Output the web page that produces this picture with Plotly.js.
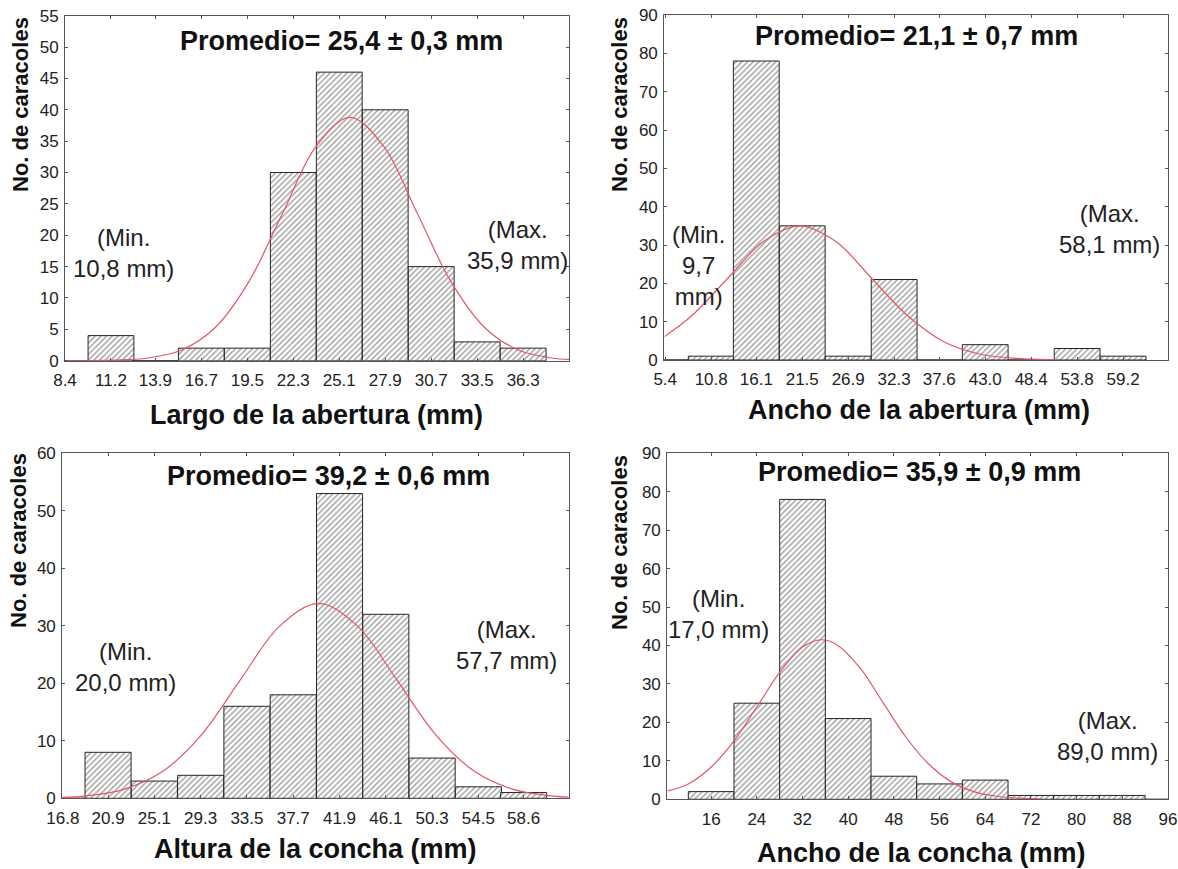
<!DOCTYPE html>
<html>
<head>
<meta charset="utf-8">
<script src="https://cdn.plot.ly/plotly-3.0.1.min.js"></script>
<style>
  html, body { margin: 0; padding: 0; background: #ffffff; overflow: hidden; }
  #chart { width: 1178px; height: 869px; }
</style>
</head>
<body>
<div id="chart"></div>
<script>
// ---------------- DATA ----------------
// Panel 1: Largo de la abertura
const p1Labels = ['8.4','11.2','13.9','16.7','19.5','22.3','25.1','27.9','30.7','33.5','36.3'];
const p1Counts = [0, 4, 0, 2, 2, 30, 46, 40, 15, 3, 2];
const p1BinWidth = 2.79;
const p1CurveX = [8.5, 11.4, 13.45, 15.5, 17.55, 19.6, 21.65, 23.7, 25.75, 27.8, 29.85, 31.9, 33.95, 36.0, 38.05, 39.1];
const p1CurveY = [0.02, 0.09, 0.43, 1.7, 5.3, 12.6, 23.5, 34.2, 38.8, 34.2, 23.5, 12.6, 5.3, 1.7, 0.43, 0.2];
const p1Title = 'Promedio= 25,4 ± 0,3 mm';
const p1XTitle = 'Largo de la abertura (mm)';
const p1Min = '(Min.<br>10,8 mm)';
const p1Max = '(Max.<br>35,9 mm)';

// Panel 2: Ancho de la abertura
const p2Labels = ['5.4','10.8','16.1','21.5','26.9','32.3','37.6','43.0','48.4','53.8','59.2'];
const p2Counts = [0, 1, 78, 35, 1, 21, 0, 4, 0, 3, 1];
const p2BinWidth = 5.38;
const p2CurveX = [5.3, 8.45, 12.7, 16.95, 21.2, 25.45, 29.7, 33.95, 38.2, 42.45, 46.7, 51.8];
const p2CurveY = [6.1, 11.4, 21.2, 30.9, 35.0, 30.9, 21.2, 11.4, 4.7, 1.5, 0.4, 0.05];
const p2Title = 'Promedio= 21,1 ± 0,7 mm';
const p2XTitle = 'Ancho de la abertura (mm)';
const p2Min = '(Min.<br>9,7<br>mm)';
const p2Max = '(Max.<br>58,1 mm)';

// Panel 3: Altura de la concha
const p3Labels = ['16.8','20.9','25.1','29.3','33.5','37.7','41.9','46.1','50.3','54.5','58.6'];
const p3Counts = [0, 8, 3, 4, 16, 18, 53, 32, 7, 2, 1];
const p3BinWidth = 4.18;
const p3CurveX = [16.74, 18.7, 22.25, 25.8, 29.35, 32.9, 36.45, 40.0, 43.55, 47.1, 50.65, 54.2, 57.75, 61.3, 62.7];
const p3CurveY = [0.16, 0.38, 1.5, 4.6, 11.0, 20.6, 29.9, 33.9, 29.9, 20.6, 11.0, 4.6, 1.5, 0.38, 0.2];
const p3Title = 'Promedio= 39,2 ± 0,6 mm';
const p3XTitle = 'Altura de la concha (mm)';
const p3Min = '(Min.<br>20,0 mm)';
const p3Max = '(Max.<br>57,7 mm)';

// Panel 4: Ancho de la concha
const p4Labels = ['16','24','32','40','48','56','64','72','80','88','96'];
const p4Counts = [2, 25, 78, 21, 6, 4, 5, 1, 1, 1, 0];
const p4BinWidth = 8;
const p4CurveX = [8.4, 12, 16, 20, 24, 28, 32, 35.3, 38, 42, 46, 50, 54, 58, 62, 66, 70, 74];
const p4CurveY = [2.2, 4.0, 8.4, 15.2, 24.0, 33.0, 39.6, 41.5, 40.2, 34.3, 25.4, 16.4, 9.3, 4.6, 2.0, 0.8, 0.3, 0.07];
const p4Title = 'Promedio= 35,9 ± 0,9 mm';
const p4XTitle = 'Ancho de la concha (mm)';
const p4Min = '(Min.<br>17,0 mm)';
const p4Max = '(Max.<br>89,0 mm)';

const yTitle = 'No. de caracoles';

// ---------------- LAYOUT / STYLE ----------------
const W = 1178, H = 869;
const FONT = 'Liberation Sans, Arial, Helvetica, sans-serif';
const fx = x => x / W;
const fy = y => 1 - y / H;

const panels = [
  { labels: p1Labels, counts: p1Counts, bw: p1BinWidth, cx: p1CurveX, cy: p1CurveY,
    title: p1Title, xtitle: p1XTitle, min: p1Min, max: p1Max,
    dom: { x0: 65, x1: 569, y0: 15.7, y1: 360.7 }, xr: [8.4, 39.09], yr: [0, 55], dy: 5,
    tpos: [341, 41], xtpos: [316, 415], ytpos: [20, 105], minpos: [123, 253], maxpos: [517, 245] },
  { labels: p2Labels, counts: p2Counts, bw: p2BinWidth, cx: p2CurveX, cy: p2CurveY,
    title: p2Title, xtitle: p2XTitle, min: p2Min, max: p2Max,
    dom: { x0: 664.2, x1: 1168.2, y0: 15, y1: 360 }, xr: [5.28, 64.5], yr: [0, 90], dy: 10,
    tpos: [916, 36], xtpos: [919, 410], ytpos: [619, 105], minpos: [698, 265], maxpos: [1109, 229] },
  { labels: p3Labels, counts: p3Counts, bw: p3BinWidth, cx: p3CurveX, cy: p3CurveY,
    title: p3Title, xtitle: p3XTitle, min: p3Min, max: p3Max,
    dom: { x0: 62.2, x1: 568.8, y0: 453.3, y1: 798.3 }, xr: [16.74, 62.7], yr: [0, 60], dy: 10,
    tpos: [328, 476], xtpos: [315, 849], ytpos: [18, 541], minpos: [125, 667], maxpos: [506, 645] },
  { labels: p4Labels, counts: p4Counts, bw: p4BinWidth, cx: p4CurveX, cy: p4CurveY,
    title: p4Title, xtitle: p4XTitle, min: p4Min, max: p4Max,
    dom: { x0: 667.2, x1: 1168.2, y0: 453.3, y1: 799.3 }, xr: [8.3, 96.05], yr: [0, 90], dy: 10,
    tpos: [919, 472], xtpos: [921, 853], ytpos: [619, 543], minpos: [718, 614], maxpos: [1107, 736] }
];

const data = [];
const annotations = [];
const layout = {
  width: W, height: H,
  margin: { l: 0, r: 0, t: 0, b: 0, pad: 0 },
  paper_bgcolor: '#ffffff', plot_bgcolor: '#ffffff',
  showlegend: false,
  font: { family: FONT, color: '#222' },
  bargap: 0
};

panels.forEach((p, i) => {
  const n = i + 1;
  const xa = n === 1 ? 'x' : 'x' + n;
  const ya = n === 1 ? 'y' : 'y' + n;
  const xkey = n === 1 ? 'xaxis' : 'xaxis' + n;
  const ykey = n === 1 ? 'yaxis' : 'yaxis' + n;
  const centers = p.labels.map(Number);
  const barX = centers.slice(0, p.counts.length);

  data.push({
    type: 'bar', x: barX, y: p.counts, width: p.bw, xaxis: xa, yaxis: ya,
    marker: {
      color: '#ffffff',
      line: { color: '#262626', width: 1 },
      pattern: { shape: '/', fgcolor: '#3a3a3a', bgcolor: '#ffffff', size: 4, solidity: 0.35, fillmode: 'overlay' }
    },
    hoverinfo: 'skip'
  });
  data.push({
    type: 'scatter', mode: 'lines', x: p.cx, y: p.cy, xaxis: xa, yaxis: ya,
    line: { color: '#e4566a', width: 1.2, shape: 'spline', smoothing: 1 },
    hoverinfo: 'skip', cliponaxis: true
  });

  const axCommon = {
    showline: true, linecolor: '#555', linewidth: 1, mirror: 'ticks',
    ticks: 'inside', ticklen: 3, tickcolor: '#555', tickwidth: 1,
    showgrid: false, zeroline: false, fixedrange: true,
    tickfont: { family: FONT, size: 17, color: '#222' }
  };
  layout[xkey] = Object.assign({}, axCommon, {
    domain: [fx(p.dom.x0), fx(p.dom.x1)], range: p.xr, anchor: ya,
    tickmode: 'array', tickvals: centers, ticktext: p.labels,
    ticklabelstandoff: 4
  });
  layout[ykey] = Object.assign({}, axCommon, {
    domain: [fy(p.dom.y1), fy(p.dom.y0)], range: p.yr, anchor: xa,
    tick0: 0, dtick: p.dy, ticklabelstandoff: 2
  });

  annotations.push({
    text: '<b>' + p.title + '</b>', x: fx(p.tpos[0]), y: fy(p.tpos[1]),
    xref: 'paper', yref: 'paper', showarrow: false, xanchor: 'center', yanchor: 'middle',
    font: { family: FONT, size: 27, color: '#111' }
  });
  annotations.push({
    text: '<b>' + p.xtitle + '</b>', x: fx(p.xtpos[0]), y: fy(p.xtpos[1]),
    xref: 'paper', yref: 'paper', showarrow: false, xanchor: 'center', yanchor: 'middle',
    font: { family: FONT, size: 27, color: '#111' }
  });
  annotations.push({
    text: '<b>' + yTitle + '</b>', x: fx(p.ytpos[0]), y: fy(p.ytpos[1]), textangle: -90,
    xref: 'paper', yref: 'paper', showarrow: false, xanchor: 'center', yanchor: 'middle',
    font: { family: FONT, size: 22, color: '#111' }
  });
  annotations.push({
    text: p.min, x: fx(p.minpos[0]), y: fy(p.minpos[1]), align: 'center',
    xref: 'paper', yref: 'paper', showarrow: false, xanchor: 'center', yanchor: 'middle',
    font: { family: FONT, size: 24, color: '#222' }
  });
  annotations.push({
    text: p.max, x: fx(p.maxpos[0]), y: fy(p.maxpos[1]), align: 'center',
    xref: 'paper', yref: 'paper', showarrow: false, xanchor: 'center', yanchor: 'middle',
    font: { family: FONT, size: 24, color: '#222' }
  });
});

layout.annotations = annotations;

Plotly.newPlot('chart', data, layout, { displayModeBar: false, staticPlot: true });
</script>
</body>
</html>
